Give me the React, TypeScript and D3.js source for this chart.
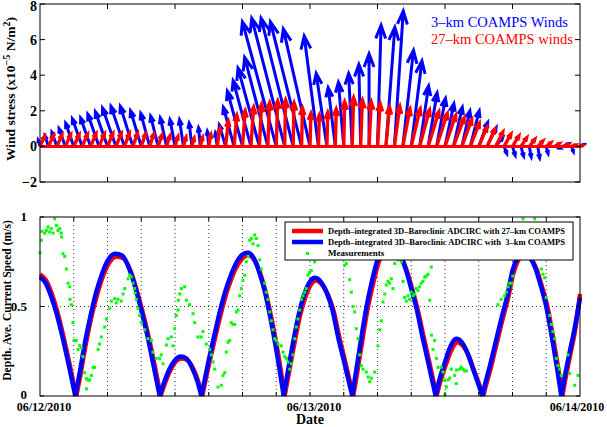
import React from 'react';
import * as d3 from 'd3';

// wind stress quiver samples, every 45 minutes from 06/12/2010 00:00 (hours)
const arrowHours = d3.range(65).map(i => i * 0.75);

// 3-km COAMPS wind stress (x1e-5 N/m^2)
const v3 = [0.35, 0.6, 0.8, 1.0, 1.3, 1.55, 1.6, 1.8, 1.95, 2.15, 2.25, 2.25, 2.0, 1.85, 1.7, 1.6, 1.5, 1.5, 1.3, 1.05,
  0.85, 0.75, 1.2, 2.2, 3.1, 3.7, 4.4, 5.0, 7.0, 7.2, 7.2, 7.0, 6.6, 6.2, 4.1, 3.3, 3.6, 4.1, 4.6, 5.2,
  6.8, 6.7, 7.6, 5.4, 4.8, 3.4, 3.0, 2.7, 2.4, 2.2, 2.0, 2.0, 1.35, 1.05, 0.5, -0.4, -0.5, -0.55, -0.6, -0.65,
  -0.4, -0.1, 0.15, -0.3, 0.1];
const u3 = [-0.1, -0.2, -0.28, -0.35, -0.45, -0.55, -0.56, -0.63, -0.68, -0.75, -0.75, -0.7, -0.6, -0.5, -0.42, -0.35, -0.28, -0.22, -0.15, -0.1,
  -0.08, -0.1, -0.35, -0.6, -0.85, -1.0, -1.2, -1.3, -1.9, -1.85, -1.8, -1.75, -1.5, -0.8, -0.6, -0.4, -0.3, -0.2, -0.1, 0.0,
  0.2, 0.5, 0.5, 0.6, 0.6, 0.5, 0.5, 0.5, 0.5, 0.5, 0.45, 0.5, 0.5, 0.5, 0.4, 0.15, 0.15, 0.15, 0.1, 0.1,
  0.1, 0.3, 0.3, 0.1, 0.2];

// 27-km COAMPS wind stress
const v27 = [0.55, 0.62, 0.62, 0.65, 0.65, 0.68, 0.7, 0.7, 0.72, 0.72, 0.72, 0.72, 0.7, 0.68, 0.62, 0.58, 0.55, 0.5, 0.45, 0.5,
  0.65, 1.0, 1.4, 1.75, 2.0, 2.2, 2.35, 2.45, 2.55, 2.6, 2.45, 2.15, 1.85, 1.75, 1.9, 2.1, 2.5, 2.75, 2.6, 2.5,
  2.4, 2.2, 2.25, 2.1, 2.1, 2.05, 1.95, 1.85, 1.75, 1.6, 1.5, 1.3, 1.07, 0.95, 0.8, 0.68, 0.58, 0.48, 0.4, 0.3,
  0.2, 0.15, 0.1, 0.08, 0.05];
const u27 = [0.25, 0.28, 0.28, 0.3, 0.3, 0.3, 0.3, 0.3, 0.3, 0.3, 0.28, 0.26, 0.24, 0.22, 0.2, 0.18, 0.16, 0.14, 0.12, 0.12,
  0.12, 0.15, 0.15, 0.15, 0.15, 0.15, 0.12, 0.1, 0.08, 0.05, 0.05, 0.05, 0.05, 0.05, 0.05, 0.05, 0.05, 0.08, 0.1, 0.12,
  0.15, 0.2, 0.3, 0.4, 0.5, 0.55, 0.6, 0.6, 0.6, 0.6, 0.55, 0.5, 0.45, 0.42, 0.4, 0.38, 0.35, 0.32, 0.3, 0.28,
  0.25, 0.25, 0.25, 0.2, 0.15];

// depth-averaged current speed (m/s): [hours, value]
const speed3km: [number, number][] = [
  [0, 0.665], [0.5, 0.63], [1, 0.555], [1.5, 0.455], [2, 0.33], [2.5, 0.19], [3.14, 0],
  [3.5, 0.12], [4, 0.3], [4.5, 0.45], [5, 0.58], [5.5, 0.68], [6, 0.755], [6.7, 0.795], [7.3, 0.785], [8, 0.7], [8.5, 0.6], [9, 0.48], [9.5, 0.35], [10, 0.2], [10.64, 0],
  [11, 0.07], [11.5, 0.15], [12, 0.2], [12.5, 0.22], [13, 0.21], [13.5, 0.16], [14, 0.08], [14.34, 0],
  [15, 0.2], [15.5, 0.34], [16, 0.475], [16.5, 0.59], [17, 0.68], [17.5, 0.75], [18, 0.79], [18.45, 0.8], [19, 0.77], [19.5, 0.69], [20, 0.58], [20.5, 0.43], [21, 0.26], [21.66, 0],
  [22, 0.125], [22.5, 0.3], [23, 0.455], [23.5, 0.57], [24, 0.64], [24.42, 0.66], [25, 0.635], [25.5, 0.575], [26, 0.48], [26.5, 0.33], [27, 0.2], [27.76, 0],
  [28, 0.1], [28.5, 0.3], [29, 0.49], [29.5, 0.64], [30, 0.76], [30.5, 0.835], [31, 0.86], [31.5, 0.845], [32, 0.79], [32.5, 0.71], [33, 0.6], [33.5, 0.48], [34, 0.33], [34.5, 0.19], [35.17, 0],
  [35.5, 0.09], [36, 0.19], [36.5, 0.28], [37, 0.32], [37.5, 0.3], [38, 0.24], [38.5, 0.15], [39, 0.06], [39.32, 0],
  [39.5, 0.05], [40, 0.17], [40.5, 0.3], [41, 0.43], [41.5, 0.55], [42, 0.7], [42.5, 0.78], [43, 0.81], [43.5, 0.78], [44, 0.72], [44.5, 0.62], [45, 0.5], [45.5, 0.33], [46, 0.14], [46.34, 0],
  [46.5, 0.06], [47, 0.22], [47.5, 0.37], [48, 0.55],
];
const speed27km: [number, number][] = [
  [0, 0.68], [0.5, 0.65], [1, 0.58], [1.5, 0.48], [2, 0.355], [2.5, 0.215], [3.22, 0],
  [3.6, 0.12], [4.1, 0.3], [4.6, 0.45], [5.1, 0.57], [5.6, 0.67], [6.1, 0.74], [6.8, 0.78], [7.4, 0.77], [8.1, 0.69], [8.6, 0.59], [9.1, 0.475], [9.6, 0.345], [10.1, 0.2], [10.72, 0],
  [11.1, 0.07], [11.6, 0.145], [12.1, 0.195], [12.6, 0.21], [13.1, 0.2], [13.6, 0.155], [14.1, 0.075], [14.42, 0],
  [15.1, 0.2], [15.6, 0.335], [16.1, 0.465], [16.6, 0.58], [17.1, 0.67], [17.6, 0.735], [18.1, 0.775], [18.55, 0.785], [19.1, 0.755], [19.6, 0.68], [20.1, 0.57], [20.6, 0.425], [21.1, 0.26], [21.74, 0],
  [22.1, 0.12], [22.6, 0.29], [23.1, 0.445], [23.6, 0.555], [24.1, 0.625], [24.52, 0.645], [25.1, 0.62], [25.6, 0.565], [26.1, 0.475], [26.6, 0.33], [27.1, 0.2], [27.84, 0],
  [28.1, 0.095], [28.6, 0.29], [29.1, 0.48], [29.6, 0.625], [30.1, 0.745], [30.6, 0.82], [31.1, 0.845], [31.6, 0.83], [32.1, 0.78], [32.6, 0.7], [33.1, 0.595], [33.6, 0.475], [34.1, 0.33], [34.6, 0.19], [35.25, 0],
  [35.6, 0.085], [36.1, 0.18], [36.6, 0.26], [37.1, 0.3], [37.6, 0.28], [38.1, 0.225], [38.6, 0.14], [39.1, 0.055], [39.4, 0],
  [39.6, 0.05], [40.1, 0.165], [40.6, 0.295], [41.1, 0.425], [41.6, 0.545], [42.1, 0.69], [42.6, 0.77], [43.1, 0.8], [43.6, 0.77], [44.1, 0.715], [44.6, 0.615], [45.1, 0.5], [45.6, 0.33], [46.1, 0.14], [46.44, 0],
  [46.6, 0.06], [47.1, 0.22], [47.6, 0.38], [48, 0.57],
];

// measured speed: [hours, value]
const measured: [number, number][] = [
  [0, 0.8], [0.12, 0.87], [0.18, 0.92], [0.42, 0.91], [0.56, 0.925], [0.71, 0.944], [0.86, 0.916], [1.0, 0.935], [1.16, 0.91], [1.31, 0.99],
  [1.45, 0.953], [1.6, 0.925], [1.75, 0.935], [1.89, 0.91], [1.92, 0.888], [2.04, 0.795], [2.2, 0.78], [2.34, 0.71], [2.49, 0.63], [2.64, 0.61],
  [2.66, 0.54], [2.78, 0.51], [2.93, 0.41], [3.02, 0.31], [3.23, 0.31], [3.38, 0.26], [3.53, 0.283], [3.67, 0.27], [3.82, 0.22], [3.97, 0.13],
  [4.12, 0.097], [4.14, 0.04], [4.27, 0.088], [4.42, 0.09], [4.56, 0.115], [4.71, 0.16], [4.86, 0.16], [5.16, 0.26], [5.3, 0.29], [5.45, 0.33],
  [5.75, 0.385], [5.9, 0.43], [6.2, 0.49], [6.34, 0.53], [6.64, 0.544], [6.78, 0.52], [6.93, 0.54], [7.23, 0.53], [7.38, 0.57], [7.53, 0.6],
  [7.82, 0.655], [7.97, 0.675], [8.12, 0.665], [8.27, 0.63], [8.42, 0.6], [8.45, 0.575], [8.56, 0.54], [8.71, 0.49], [8.86, 0.45], [9.0, 0.41],
  [9.31, 0.37], [9.6, 0.32], [9.9, 0.31], [10.04, 0.245], [10.34, 0.21], [10.64, 0.21], [10.78, 0.23], [10.93, 0.18], [11.23, 0.285], [11.38, 0.32],
  [11.67, 0.33], [11.82, 0.28], [11.97, 0.376], [12.12, 0.45], [12.27, 0.48], [12.3, 0.535], [12.42, 0.57], [12.56, 0.6], [12.86, 0.61], [13.0, 0.535],
  [13.3, 0.51], [13.6, 0.46], [13.75, 0.41], [14.04, 0.33], [14.34, 0.33], [14.49, 0.36], [14.78, 0.29], [15.08, 0.26], [15.23, 0.23], [15.38, 0.19],
  [15.53, 0.15], [15.82, 0.05], [16.12, 0.06], [16.27, 0.115], [16.42, 0.13], [16.56, 0.245], [16.71, 0.3], [16.86, 0.31], [17.0, 0.41], [17.16, 0.4],
  [17.31, 0.4], [17.45, 0.47], [17.6, 0.48], [17.75, 0.56], [17.89, 0.6], [18.04, 0.646], [18.2, 0.675], [18.34, 0.75], [18.49, 0.78], [18.64, 0.87],
  [18.78, 0.88], [18.93, 0.85], [19.08, 0.9], [19.23, 0.88], [19.38, 0.84], [19.53, 0.76], [19.67, 0.71], [19.97, 0.63], [20.12, 0.58], [20.27, 0.54],
  [20.42, 0.47], [20.56, 0.42], [20.71, 0.37], [20.86, 0.32], [21.0, 0.31], [21.16, 0.29], [21.45, 0.28], [21.6, 0.245], [21.75, 0.22], [21.9, 0.21],
  [22.04, 0.19], [22.2, 0.15], [22.34, 0.18], [22.49, 0.23], [22.64, 0.32], [22.78, 0.385], [22.93, 0.43], [23.08, 0.48], [23.23, 0.54], [23.38, 0.56],
  [23.53, 0.58], [23.67, 0.6], [23.82, 0.675], [23.97, 0.69], [24.12, 0.7], [24.42, 0.75], [24.89, 0.82], [25.42, 0.86], [26.13, 0.84], [26.67, 0.8],
  [27.08, 0.73], [27.23, 0.74], [27.53, 0.65], [27.67, 0.58], [27.82, 0.5], [27.97, 0.47], [28.12, 0.376], [28.27, 0.32], [28.42, 0.23], [28.56, 0.17],
  [28.71, 0.15], [29.0, 0.134], [29.16, 0.106], [29.31, 0.08], [29.45, 0.1], [29.75, 0.134], [30.04, 0.28], [30.2, 0.37], [30.34, 0.42], [30.49, 0.525],
  [30.64, 0.57], [30.78, 0.62], [30.93, 0.64], [31.08, 0.63], [31.23, 0.655], [31.38, 0.6], [31.53, 0.74], [31.82, 0.76], [32.12, 0.75], [32.27, 0.64],
  [32.42, 0.55], [32.56, 0.53], [32.71, 0.56], [32.86, 0.54], [33.0, 0.58], [33.16, 0.56], [33.31, 0.57], [33.45, 0.6], [33.6, 0.59], [33.75, 0.61],
  [33.89, 0.63], [34.04, 0.64], [34.2, 0.665], [34.34, 0.67], [34.49, 0.68], [34.64, 0.535], [34.78, 0.72], [34.8, 0.34], [34.93, 0.26], [35.08, 0.31],
  [35.23, 0.21], [35.38, 0.16], [35.67, 0.16], [35.82, 0.134], [35.97, 0.088], [36.0, 0.005], [36.12, 0.05], [36.27, 0.09], [36.42, 0.1], [36.56, 0.15],
  [36.86, 0.115], [37.0, 0.07], [37.03, 0.145], [37.31, 0.15], [37.45, 0.16], [37.6, 0.15], [37.75, 0.14], [37.9, 0.14], [40.71, 0.51], [41.0, 0.54],
  [41.31, 0.56], [41.45, 0.58], [41.6, 0.61], [41.75, 0.63], [41.9, 0.63], [42.04, 0.67], [42.93, 0.99], [43.97, 0.99], [44.56, 0.71], [44.71, 0.68],
  [44.86, 0.66], [45.0, 0.55], [45.31, 0.45], [45.45, 0.4], [45.6, 0.36], [45.75, 0.32], [45.9, 0.21], [46.04, 0.17], [46.2, 0.15], [46.34, 0.115],
  [46.93, 0.23], [47.08, 0.125], [47.53, 0.06], [47.82, 0.115],
];

const dateLabels = [[0, '06/12/2010'], [24, '06/13/2010'], [48, '06/14/2010']] as [number, string][];
const windTicks = [-2, 0, 2, 4, 6, 8];
const speedTicks = [0, 0.5, 1];
const windLegend = ['3–km COAMPS Winds', '27–km COAMPS winds'];
const speedLegend = [
  'Depth–integrated 3D–Baroclinic ADCIRC with 27–km COAMPS',
  'Depth–integrated 3D–Baroclinic ADCIRC with  3–km COAMPS',
  'Measurements',
];

const FONT = '"Liberation Serif", "Times New Roman", serif';

function arrowD(x0: number, y0: number, x1: number, y1: number) {
  const dx = x1 - x0, dy = y1 - y0;
  const len = Math.hypot(dx, dy);
  if (len < 0.5) return '';
  const h = Math.min(0.5 * len, Math.min(14, 0.12 * len + 3));
  const ang = Math.atan2(dy, dx);
  const a = 0.36;
  const p = d3.path();
  p.moveTo(x0, y0);
  p.lineTo(x1, y1);
  p.moveTo(x1 - h * Math.cos(ang - a), y1 - h * Math.sin(ang - a));
  p.lineTo(x1, y1);
  p.lineTo(x1 - h * Math.cos(ang + a), y1 - h * Math.sin(ang + a));
  return p.toString();
}

// split a series into arches at its zero points, so the cusps stay sharp
function arches(data: [number, number][]) {
  const out: [number, number][][] = [];
  let cur: [number, number][] = [];
  data.forEach(d => {
    cur.push(d);
    if (d[1] === 0 && cur.length > 1) {
      out.push(cur);
      cur = [d];
    }
  });
  if (cur.length > 1) out.push(cur);
  return out;
}

export default function App() {
  const L = 40, R = 580;
  const x = d3.scaleLinear().domain([0, 48]).range([L, R]);
  const yW = d3.scaleLinear().domain([-2, 8]).range([182, 4]);
  const yS = d3.scaleLinear().domain([0, 1]).range([396, 217]);
  const k = yW(0) - yW(1);

  const line = d3.line<[number, number]>().x(d => x(d[0])).y(d => yS(d[1])).curve(d3.curveMonotoneX);

  const quiver = (u: number[], v: number[]) =>
    arrowHours.map((t, i) => arrowD(x(t), yW(0), x(t) + u[i] * k, yW(v[i]))).join('');

  const topTicksX = d3.range(6, 48, 6);
  const botTicksX = d3.range(3, 48, 3);

  return (
    <div style={{ position: 'absolute', left: 0, top: 0 }}>
      <svg width={607} height={427} style={{ display: 'block', background: '#fff' }} fontFamily={FONT}>
        {/* ---- top panel: wind stress ---- */}
        <rect x={L} y={yW(8)} width={R - L} height={yW(-2) - yW(8)} fill="#fff" />
        <path d={quiver(u3, v3)} fill="none" stroke="#0000ff" strokeWidth={3} strokeLinejoin="miter" />
        <line x1={L} x2={R} y1={yW(0)} y2={yW(0)} stroke="#ff0000" strokeWidth={3} />
        <path d={quiver(u27, v27)} fill="none" stroke="#ff0000" strokeWidth={3.4} strokeLinejoin="miter" />
        <rect x={L} y={yW(8)} width={R - L} height={yW(-2) - yW(8)} fill="none" stroke="#000" strokeWidth={1} />
        {topTicksX.map(t => (
          <g key={t} stroke="#000">
            <line x1={x(t)} x2={x(t)} y1={yW(8)} y2={yW(8) + 5} />
            <line x1={x(t)} x2={x(t)} y1={yW(-2)} y2={yW(-2) - 5} />
          </g>
        ))}
        {windTicks.map(v => (
          <g key={v}>
            <line x1={L} x2={L + 5} y1={yW(v)} y2={yW(v)} stroke="#000" />
            <line x1={R} x2={R - 5} y1={yW(v)} y2={yW(v)} stroke="#000" />
            <text x={37} y={Math.max(yW(v), 6)} dy="0.35em" textAnchor="end" fontSize={14} fontWeight="bold">
              {v < 0 ? `−${-v}` : v}
            </text>
          </g>
        ))}
        <text transform={`translate(15,${(yW(8) + yW(-2)) / 2 - 4}) rotate(-90)`} textAnchor="middle" fontSize={13.5} fontWeight="bold">
          Wind stress (x10<tspan dy={-5} fontSize={10}>−5</tspan><tspan dy={5}> N/m</tspan><tspan dy={-5} fontSize={10}>2</tspan><tspan dy={5}>)</tspan>
        </text>
        {windLegend.map((s, i) => (
          <text key={s} x={431} y={27 + i * 17} fontSize={14.5} fill={i === 0 ? '#0000ff' : '#ff0000'}>{s}</text>
        ))}

        {/* ---- bottom panel: current speed ---- */}
        {botTicksX.map(t => (
          <line key={t} x1={x(t)} x2={x(t)} y1={yS(1)} y2={yS(0)} stroke="#000" strokeWidth={0.8} strokeDasharray="1,3" />
        ))}
        <line x1={L} x2={R} y1={yS(0.5)} y2={yS(0.5)} stroke="#000" strokeWidth={0.8} strokeDasharray="1,3" />
        <g fill="none" strokeWidth={4.5} strokeLinejoin="round">
          {arches(speed27km).map((a, i) => <path key={'r' + i} d={line(a) || ''} stroke="#ff0000" />)}
          {arches(speed3km).map((a, i) => <path key={'b' + i} d={line(a) || ''} stroke="#0000ff" />)}
        </g>
        {measured.map((d, i) => (
          <rect key={i} x={x(d[0]) - 1.5} y={yS(d[1]) - 1.5} width={3} height={3} fill="#00ff00" />
        ))}
        <rect x={L} y={yS(1)} width={R - L} height={yS(0) - yS(1)} fill="none" stroke="#000" strokeWidth={1} />
        {botTicksX.map(t => (
          <g key={t} stroke="#000">
            <line x1={x(t)} x2={x(t)} y1={yS(1)} y2={yS(1) + 4} />
            <line x1={x(t)} x2={x(t)} y1={yS(0)} y2={yS(0) - 4} />
          </g>
        ))}
        {speedTicks.map(v => (
          <g key={v}>
            <line x1={L} x2={L + 4} y1={yS(v)} y2={yS(v)} stroke="#000" />
            <line x1={R} x2={R - 4} y1={yS(v)} y2={yS(v)} stroke="#000" />
            <text x={27} y={yS(v)} dy={v === 0 ? '0.22em' : '0.33em'} textAnchor="end" fontSize={13} fontWeight="bold">{v}</text>
          </g>
        ))}
        {dateLabels.map(([t, s]) => (
          <text key={s} x={Math.min(x(t) + 4, 577)} y={410.5} textAnchor="middle" fontSize={12} fontWeight="bold">{s}</text>
        ))}
        <text x={x(24)} y={424} textAnchor="middle" fontSize={14} fontWeight="bold">Date</text>
        <text transform={`translate(11,${(yS(0) + yS(1)) / 2 - 6}) rotate(-90)`} textAnchor="middle" fontSize={11.6} fontWeight="bold">
          Depth. Ave. Current Speed (m/s)
        </text>

        {/* legend */}
        <rect x={285} y={222} width={288} height={38} fill="#fff" stroke="#000" strokeWidth={1} />
        <line x1={292} x2={323} y1={231} y2={231} stroke="#ff0000" strokeWidth={4.5} />
        <line x1={292} x2={323} y1={242} y2={242} stroke="#0000ff" strokeWidth={4.5} />
        <rect x={306} y={252} width={3} height={3} fill="#00ff00" />
        {speedLegend.map((s, i) => (
          <text key={i} x={328} y={231 + i * 11} dy="0.35em" fontSize={9} fontWeight="bold"
            textLength={i < 2 ? 237 : undefined} lengthAdjust="spacingAndGlyphs" style={{ whiteSpace: 'pre' }}>{s}</text>
        ))}
      </svg>
    </div>
  );
}
